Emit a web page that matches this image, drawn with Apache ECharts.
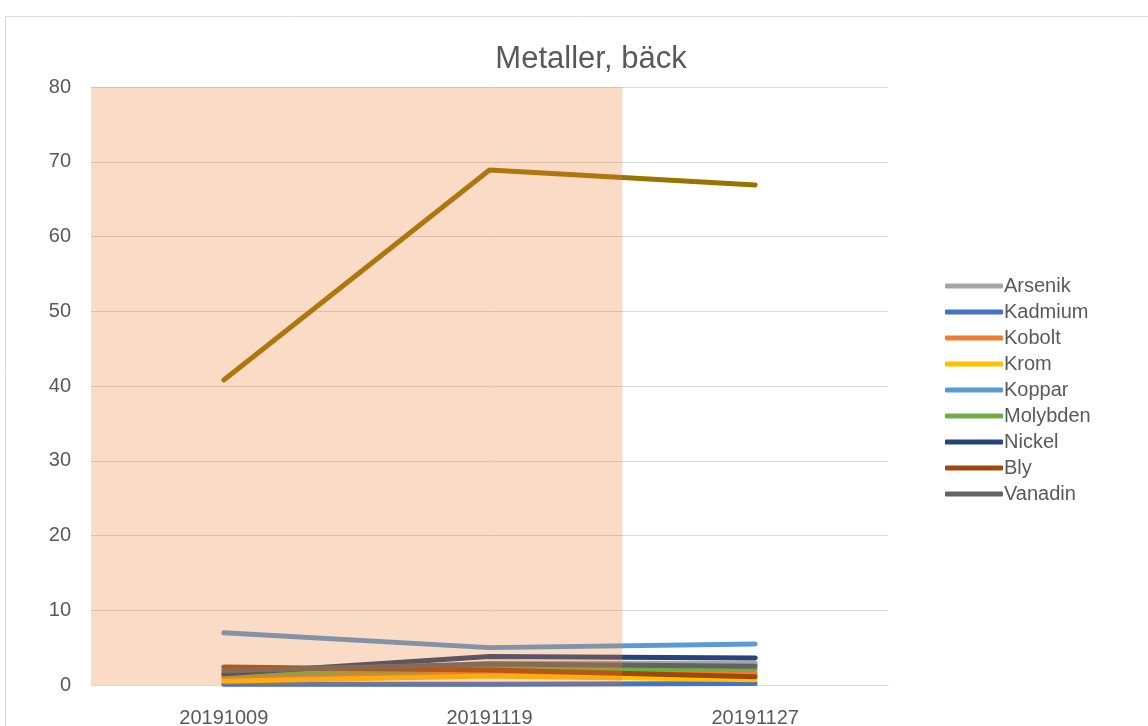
<!DOCTYPE html>
<html>
<head>
<meta charset="utf-8">
<script src="https://cdn.jsdelivr.net/npm/echarts@6/dist/echarts.min.js"></script>
<style>
  html, body { margin: 0; padding: 0; background: #fff; }
  #chart { width: 1148px; height: 726px; }
</style>
</head>
<body>
<div id="chart"></div>
<script>
// Sampling dates
const dates = ['20191009', '20191119', '20191127'];

// Metal concentrations per sampling date
const arsenik  = [1.2, 2.9, 2.9];
const kadmium  = [0.1, 0.1, 0.2];
const kobolt   = [0.9, 1.6, 1.6];
const krom     = [0.5, 1.2, 0.7];
const koppar   = [7.0, 5.0, 5.5];
const molybden = [1.4, 2.2, 2.1];
const nickel   = [1.5, 3.8, 3.6];
const bly      = [2.4, 2.0, 1.1];
const vanadin  = [1.9, 2.8, 2.5];
const zink     = [40.8, 68.9, 66.9];

// Highlighted period (first two sampling dates)
const period = [80, 80, null];

const yTicks = { min: 0, max: 80, interval: 10 };

const metals = [
  { name: 'Arsenik',  data: arsenik,  color: '#A5A5A5' },
  { name: 'Kadmium',  data: kadmium,  color: '#4472C4' },
  { name: 'Kobolt',   data: kobolt,   color: '#ED7D31' },
  { name: 'Krom',     data: krom,     color: '#FFC000' },
  { name: 'Koppar',   data: koppar,   color: '#5B9BD5' },
  { name: 'Molybden', data: molybden, color: '#70AD47' },
  { name: 'Nickel',   data: nickel,   color: '#264478' },
  { name: 'Bly',      data: bly,      color: '#9E480E' },
  { name: 'Vanadin',  data: vanadin,  color: '#636363' },
  { name: 'Zink',     data: zink,     color: '#997300' }
];

const txt = '#595959';
const font = '"Liberation Sans", "DejaVu Sans", sans-serif';

const series = metals.map(m => ({
  name: m.name,
  type: 'line',
  data: m.data,
  symbol: 'none',
  smooth: false,
  color: m.color,
  lineStyle: { width: 5, color: m.color, cap: 'round', join: 'round' },
  z: 2
}));

series.push({
  name: 'period',
  type: 'bar',
  data: period,
  barCategoryGap: '0%',
  itemStyle: { color: 'rgba(237,125,49,0.28)' },
  silent: true,
  z: 5
});

const chart = echarts.init(document.getElementById('chart'), null, { renderer: 'canvas' });
chart.setOption({
  animation: false,
  backgroundColor: '#ffffff',
  textStyle: { fontFamily: font },
  graphic: [{
    type: 'rect',
    shape: { x: 5.5, y: 16.5, width: 1160, height: 720 },
    style: { fill: 'none', stroke: '#D9D9D9', lineWidth: 1 },
    silent: true
  }],
  title: {
    text: 'Metaller, bäck',
    left: 586,
    textAlign: 'center',
    top: 39,
    textStyle: { color: txt, fontSize: 31, fontWeight: 'normal', fontFamily: font }
  },
  legend: {
    data: metals.slice(0, 9).map(m => m.name),
    orient: 'vertical',
    left: 940,
    top: 271,
    icon: 'roundRect',
    itemWidth: 58,
    itemHeight: 5,
    itemGap: 6,
    textStyle: { color: txt, fontSize: 20, lineHeight: 20, fontFamily: font, padding: [0, 0, 0, -4] }
  },
  grid: { left: 91, right: 260, top: 87, bottom: 41, containLabel: false, outerBoundsMode: 'none' },
  xAxis: {
    type: 'category',
    data: dates,
    boundaryGap: true,
    axisLine: { show: true, lineStyle: { color: '#D9D9D9', width: 1 } },
    axisTick: { show: false },
    axisLabel: { color: txt, fontSize: 20, margin: 23, fontFamily: font },
    splitLine: { show: false }
  },
  yAxis: {
    type: 'value',
    min: yTicks.min,
    max: yTicks.max,
    interval: yTicks.interval,
    axisLine: { show: false },
    axisTick: { show: false },
    axisLabel: { color: txt, fontSize: 20, margin: 20, fontFamily: font },
    splitLine: { lineStyle: { color: '#D9D9D9', width: 1 } }
  },
  series: series
});
</script>
</body>
</html>
